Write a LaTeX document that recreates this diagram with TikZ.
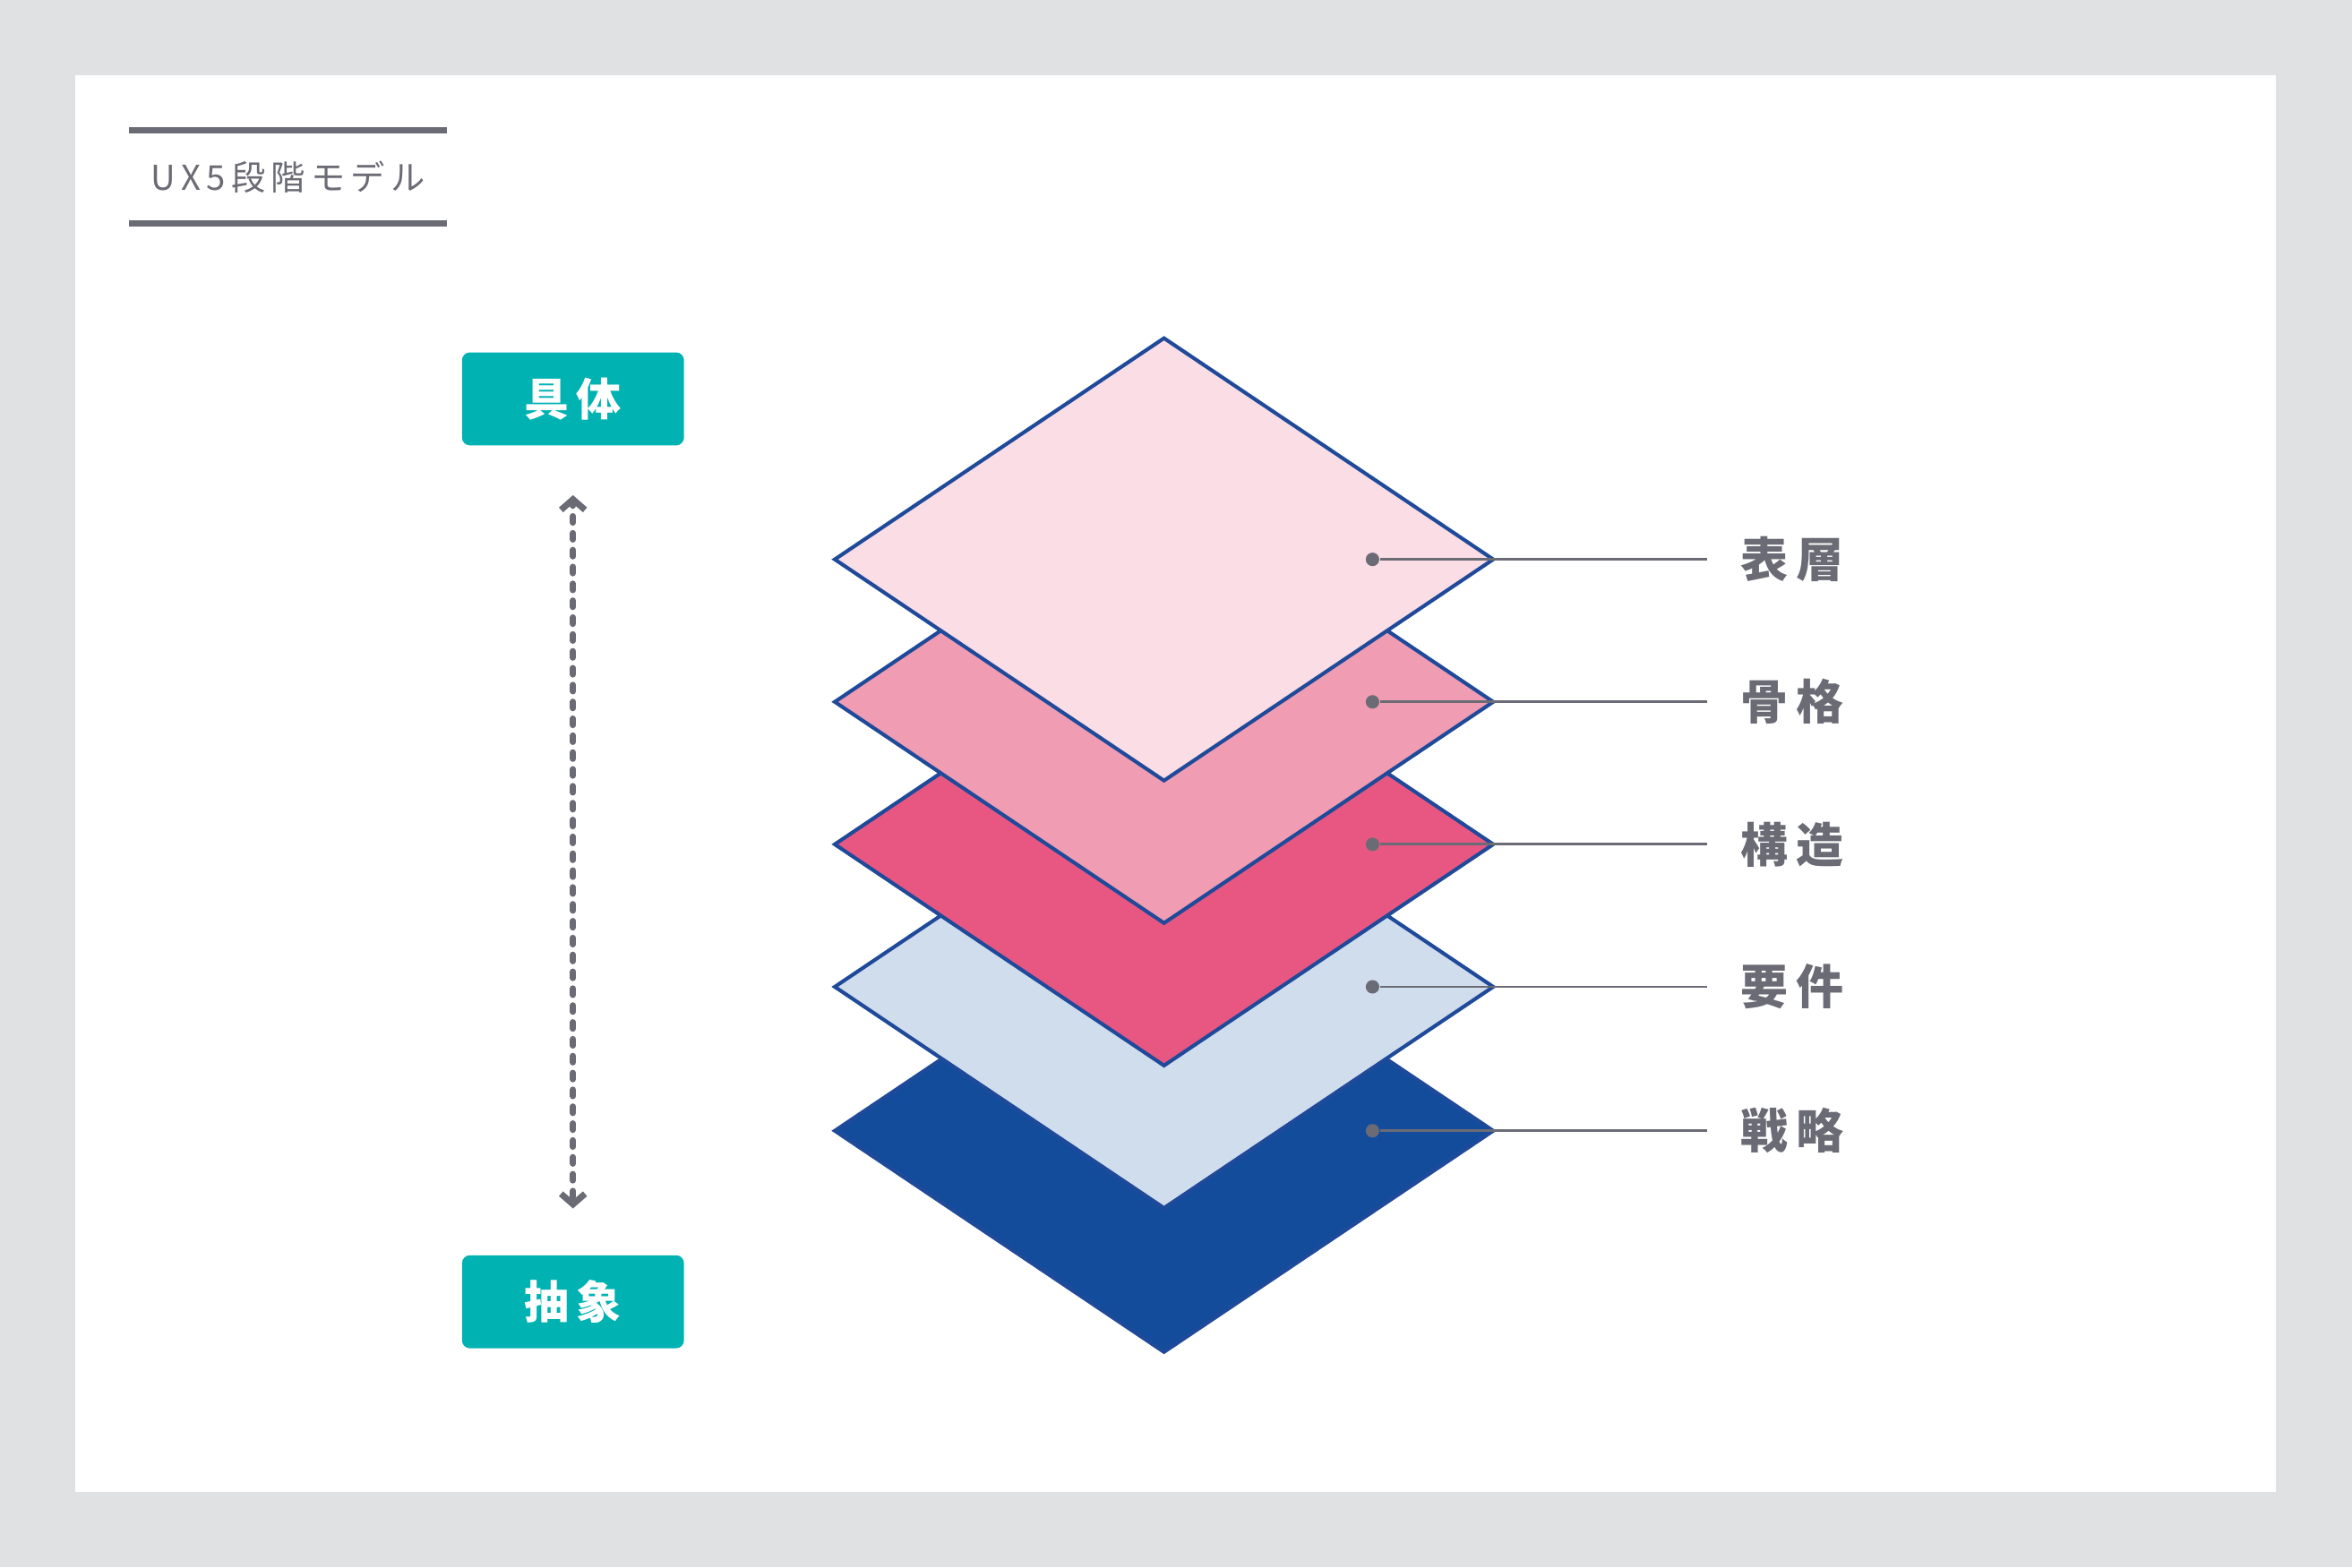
\documentclass[tikz,border=0pt]{standalone}
\usepackage{fontspec}
\setmainfont{Noto Sans CJK JP}
\usetikzlibrary{positioning,shapes.geometric,arrows.meta,calc}
\definecolor{bggray}{HTML}{E0E1E3}
\definecolor{inkgray}{HTML}{6B6B75}
\definecolor{teal box}{HTML}{00B2B2}
\definecolor{navy}{HTML}{144C9C}
\definecolor{edgeblue}{HTML}{1F4A9A}
\definecolor{paleblue}{HTML}{D0DDEC}
\definecolor{rosered}{HTML}{E85782}
\definecolor{midpink}{HTML}{F09CB2}
\definecolor{palepink}{HTML}{FADDE5}
\tikzset{
    layer/.style = {
        diamond, draw=edgeblue, line width=0.7pt,
        minimum width=4.4cm, minimum height=2.96cm, inner sep=0pt,
        },
    level box/.style = {
        fill=teal box, rounded corners=1.5pt,
        minimum width=1.48cm, minimum height=0.62cm,
        text=white, font=\bfseries\fontsize{8.5}{10}\selectfont,
        },
    layer dot/.style = {
        circle, fill=inkgray, inner sep=0pt, minimum size=0.09cm,
        },
    layer label/.style = {
        text=inkgray, font=\bfseries\fontsize{9}{11}\selectfont,
        inner sep=0pt, anchor=west,
        },
}
\begin{document}
\begin{tikzpicture}
    \fill[bggray] (0,0) rectangle (15.68,10.45);
    \fill[white] (0.50,0.50) rectangle (15.17,9.95);

    % title
    \draw[inkgray, line width=1.2pt] (0.86,9.58) -- (2.98,9.58);
    \draw[inkgray, line width=1.2pt] (0.86,8.96) -- (2.98,8.96);
    \node[text=inkgray, font=\fontsize{6.5}{8}\selectfont] (title) at (1.92,9.27)
        {U\,X\,5\,段\,階\,モ\,デ\,ル};

    % concrete / abstract
    \node[level box] (concrete) at (3.82,7.79) {具\,体};
    \node[level box] (abstract) at (3.82,1.77) {抽\,象};
    \coordinate (upTip) at (3.82,7.12);
    \coordinate (downTip) at (3.82,2.42);
    \draw[inkgray, line width=1.2pt, dotted, line cap=round] (upTip) -- (downTip);
    \draw[inkgray, line width=1.2pt] ($(upTip)+(-0.08,-0.07)$) -- (upTip) -- ($(upTip)+(0.08,-0.07)$);
    \draw[inkgray, line width=1.2pt] ($(downTip)+(-0.08,0.07)$) -- (downTip) -- ($(downTip)+(0.08,0.07)$);

    % layers, bottom first
    \foreach \name/\y/\col/\txt in {
        strategy/2.91/navy/戦\,略,
        scope/3.87/paleblue/要\,件,
        structure/4.82/rosered/構\,造,
        skeleton/5.77/midpink/骨\,格,
        surface/6.72/palepink/表\,層}{
        \node[layer, fill=\col] (\name) at (7.76,\y) {};
        \node[layer dot] (\name Dot) at (9.15,\y) {};
        \coordinate (\name End) at (11.38,\y);
        \node[layer label, right=0.22cm of \name End] (\name Label) {\txt};
    }
    \foreach \name in {strategy,scope,structure,skeleton,surface}
        \draw[inkgray, line width=0.5pt] (\name Dot) -- (\name End);
\end{tikzpicture}
\end{document}
